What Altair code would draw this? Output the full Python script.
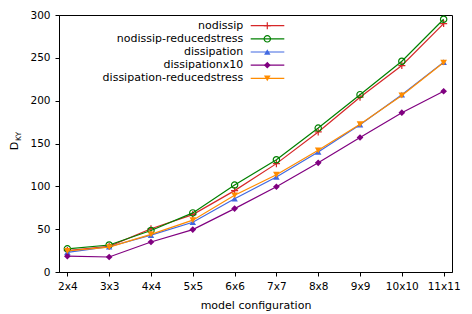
import altair as alt
import pandas as pd

configs = ["2x4", "3x3", "4x4", "5x5", "6x6", "7x7", "8x8", "9x9", "10x10", "11x11"]
series = ["nodissip", "nodissip-reducedstress", "dissipation", "dissipationx10", "dissipation-reducedstress"]
nodissip = [25, 30, 50.5, 67, 95, 126.5, 163.5, 204, 241, 290]
nodissip_rs = [27, 31.5, 48.5, 69, 101.5, 131, 168, 207, 246, 295]
dissipation = [23, 29.5, 43, 58, 85.5, 111, 140, 172, 207, 245]
dissipationx10 = [18.5, 17.5, 35, 49.5, 74, 99.5, 127.5, 157, 186, 211]
dissipation_rs = [24.5, 29, 44, 60.5, 89.5, 113.5, 142, 172.5, 206, 244.5]
values = [nodissip, nodissip_rs, dissipation, dissipationx10, dissipation_rs]

colors = ["#d62728", "#008000", "#4169e1", "#800080", "#ff8c00"]
plus = "M-1,0L1,0M0,-1L0,1"
shapes = [plus, "circle", "triangle-up", "diamond", "triangle-down"]
filled = [False, False, True, True, True]
sizes = [50, 40, 42, 45, 45]

FONT = "DejaVu Sans"
W, H = 393, 257

xenc = alt.X("config:O", sort=configs, scale=alt.Scale(padding=0.2),
             axis=alt.Axis(title="model configuration", labelAngle=0))
yenc = alt.Y("value:Q", scale=alt.Scale(domain=[0, 300], nice=False),
             axis=alt.Axis(title=None, values=[0, 50, 100, 150, 200, 250, 300]))

layers = []
for s, v, c, sh, f, sz in zip(series, values, colors, shapes, filled, sizes):
    df = pd.DataFrame({"config": configs, "value": v})
    base = alt.Chart(df)
    layers.append(base.mark_line(color=c, strokeWidth=1.2).encode(x=xenc, y=yenc))
    if f:
        pm = base.mark_point(shape=sh, filled=True, color=c, size=sz, opacity=1)
    else:
        pm = base.mark_point(shape=sh, filled=False, color=c, size=sz, strokeWidth=1.2, opacity=1)
    layers.append(pm.encode(x=xenc, y=yenc))

main = alt.layer(*layers)

# legend (symbols to the right of labels, as in the reference)
leg_df = pd.DataFrame({"series": series})
ly = alt.Y("series:N", sort=series, scale=alt.Scale(type="point", range=[10.7, 63.3], padding=0), axis=None)
leg_layers = [
    alt.Chart(leg_df).mark_text(align="right", baseline="middle", font=FONT, fontSize=11, color="black")
    .encode(x=alt.value(184.3), y=ly, text="series:N")
]
for s, c, sh, f, sz in zip(series, colors, shapes, filled, sizes):
    d = pd.DataFrame({"series": [s]})
    leg_layers.append(alt.Chart(d).mark_rule(color=c, strokeWidth=1.2)
                      .encode(x=alt.value(191.7), x2=alt.value(225.3), y=ly))
    if f:
        pm = alt.Chart(d).mark_point(shape=sh, filled=True, color=c, size=sz, opacity=1)
    else:
        pm = alt.Chart(d).mark_point(shape=sh, filled=False, color=c, size=sz, strokeWidth=1.2, opacity=1)
    leg_layers.append(pm.encode(x=alt.value(208.3), y=ly))
legend = alt.layer(*leg_layers)

# y-axis title D_KY
tD = alt.Chart(pd.DataFrame({"t": ["D"]})).mark_text(
    angle=270, align="center", baseline="alphabetic", font=FONT, fontSize=11, color="black"
).encode(x=alt.value(-41), y=alt.value(131), text="t:N")
tKY = alt.Chart(pd.DataFrame({"t": ["KY"]})).mark_text(
    angle=270, align="center", baseline="alphabetic", font=FONT, fontSize=7.5, color="black"
).encode(x=alt.value(-38.5), y=alt.value(121.5), text="t:N")

chart = alt.layer(main, legend, tD, tKY).resolve_scale(y="independent").properties(
    width=W, height=H,
    autosize=alt.AutoSizeParams(type="none"),
    padding={"left": 51, "top": 7, "right": 12, "bottom": 41},
).configure_view(stroke="black", strokeWidth=1).configure_axis(
    labelFont=FONT, titleFont=FONT, labelFontSize=10.5, titleFontSize=11,
    labelColor="black", titleColor="black", domainColor="black", tickColor="black",
    tickSize=4, grid=False, titleFontWeight="normal", labelPadding=5, titlePadding=8,
)

chart.save("out.html", embed_options={"renderer": "svg", "actions": False})
